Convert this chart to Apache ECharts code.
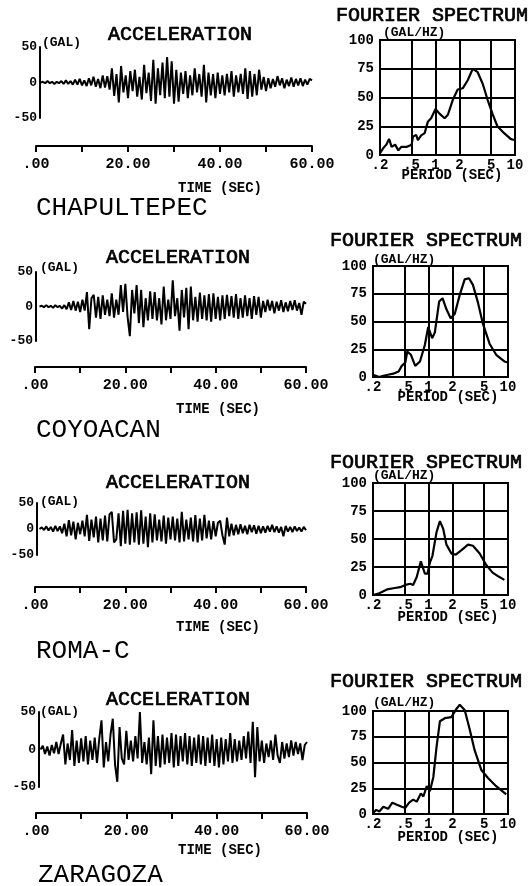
<!DOCTYPE html>
<html><head><meta charset="utf-8">
<script src="https://cdn.jsdelivr.net/npm/echarts@6/dist/echarts.min.js"></script>
<style>html,body{margin:0;padding:0;background:#fff;}#c{width:530px;height:886px;}</style>
</head><body><div id="c"></div>
<script>
// ---------- DATA ----------
const stationNames = ['CHAPULTEPEC', 'COYOACAN', 'ROMA-C', 'ZARAGOZA'];
const accStart = 1.0;   // s, first sample (at the acceleration axis)
const accStep = 0.5;    // s, sampling step of the read-off values
const timeTickLabels = {0: '.00', 20: '20.00', 40: '40.00', 60: '60.00'};
const periodTicks = [0.2, 0.5, 1, 2, 5, 10];
const periodTickLabels = ['.2', '.5', '1', '2', '5', '10'];

const accChapultepec = [0, 1, -1, 2, -1, 1, -2, 1, -1, 2,
 -2, 3, -2, 2, -3, 4, -3, 5, -4, 3,
 -5, 6, -4, 8, -6, 5, -8, 10, -7, 9,
 -10, 20, -19, 12, -28, 23, -14, 10, -22, 16,
 -12, 18, -20, 8, -24, 25, -15, 14, -26, 32,
 -30, 20, -18, 28, -22, 36, -20, 30, -30, 18,
 -27, 14, -16, 16, -22, 10, -18, 20, -14, 12,
 -20, 25, -28, 14, -18, 12, -22, 14, -16, 10,
 -18, 12, -14, 16, -20, 10, -14, 12, -16, 20,
 -23, 16, -20, 12, -18, 18, -10, 8, -12, 6,
 -8, 5, -6, 9, -4, 6, -8, 4, -5, 7,
 -6, 5, -4, 6, -5, 4, -3, 5, 3];
const accCoyoacan = [0, 1, -1, 2, -1, 1, -2, 2, -1, 1,
 -3, 2, -4, 6, -5, 8, -6, 7, -8, 10,
 -6, 21, -33, 12, 17, -16, 14, -18, 16, -12,
 10, -14, 19, -16, 10, -12, 31, -8, 33, -15,
 -43, 24, -10, 31, -24, 24, -30, 12, -20, 22,
 -18, 21, -20, 12, -26, 29, -20, 10, -18, 38,
 -14, 12, -35, 24, -16, 27, -33, 29, -20, 14,
 -22, 20, -18, 16, -20, 18, -22, 19, -18, 14,
 -20, 16, -18, 17, -14, 15, -16, 18, -18, 12,
 -16, 16, -14, 12, -18, 15, -12, 14, -16, 8,
 -8, 10, -6, 8, -10, 7, -6, 9, -8, 6,
 -7, 8, -5, 9, -6, 5, -12, 7, 4];
const accRomaC = [0, 3, -2, 5, -3, 4, -5, 6, -4, 5,
 -8, 10, -14, 17, -12, 14, -20, 12, -10, 16,
 -14, 27, -23, 18, -16, 24, -26, 20, -22, 26,
 -24, 28, 33, -26, -20, 30, -33, 35, -28, 37,
 -30, 30, -26, 32, -30, 36, -28, 24, -35, 30,
 -26, 28, -22, 18, -24, 26, -28, 22, -20, 24,
 -22, 20, -26, 33, -24, 18, -20, 22, -24, 27,
 -26, 20, -22, 27, -18, 16, -20, 15, -14, 12,
 16, -12, -30, 22, -14, 10, -12, 8, -10, 9,
 -8, 6, -10, 8, -6, 7, -9, 6, -8, 5,
 -7, 6, -5, 8, -6, 5, -7, 4, -14, 6,
 -5, 4, -6, 5, -4, 3, -5, 4, -2];
const accZaragoza = [0, 5, -6, 4, -8, 6, -5, 10, -6, 8,
 20, -20, 8, -14, 26, -22, 12, -18, 15, -16,
 18, -20, 12, -14, 16, -18, 14, 39, -24, 10,
 -16, 20, 41, -20, -43, 30, -12, -20, 25, -14,
 12, -16, 18, -12, 50, -18, 10, -20, 16, -33,
 39, -22, 18, -24, 20, -20, 16, -18, 22, -24,
 20, -22, 18, -16, 22, -20, 18, -22, 16, -18,
 20, -20, 18, -22, 16, -18, 20, -22, 14, -24,
 16, -20, 14, -16, 22, -18, 14, -16, 12, -14,
 18, -12, 24, -18, 37, -37, 30, -16, 12, -18,
 8, -10, 12, -14, 20, -8, -18, 10, -12, 8,
 -10, 12, -8, 10, -6, 8, -14, 6, 10];

const specPeriodChapultepec = [0.2,0.22,0.24,0.26,0.28,0.31,0.34,0.37,0.43,0.5,0.52,0.57,0.6,0.66,0.73,0.8,0.88,1.0,1.12,1.3,1.43,1.65,1.9,2.2,2.54,2.94,3.39,3.92,4.52,5.2,6.0,7.3,8.8,9.7];
const specAmpChapultepec = [1.5,6,9,14,7,9,4,7,7,9,16,17.5,13,17,19,29,32,40,36,32,35,48,57,58,65,75,72,62,48,36,25,19,14,13];
const specPeriodCoyoacan = [0.2,0.24,0.27,0.31,0.36,0.42,0.46,0.51,0.54,0.6,0.68,0.78,0.9,0.99,1.11,1.2,1.36,1.5,1.68,1.9,2.14,2.47,2.85,3.23,3.62,4.19,4.83,5.86,7.1,9.0,10];
const specAmpCoyoacan = [2,0,1,2,3,5,10,13,23,20,10,14,29,45,35,40,68,71,61,53,57,74,88,89,83,67,48,30,20,14,13];
const specPeriodRomaC = [0.2,0.24,0.3,0.36,0.44,0.51,0.59,0.64,0.71,0.8,0.9,0.97,1.04,1.12,1.26,1.39,1.53,1.68,1.94,2.2,2.6,3.14,3.62,4.4,5.3,6.4,7.8,9.0];
const specAmpRomaC = [0,1.5,5,6,7,9,10,9,16,30,19,19,29,35,56,66,59,45,37,36,40,45,44,37,27,20,16,13.5];
const specPeriodZaragoza = [0.2,0.22,0.24,0.27,0.31,0.35,0.4,0.46,0.51,0.57,0.64,0.71,0.8,0.86,0.95,1.04,1.15,1.26,1.39,1.6,1.94,2.24,2.47,2.85,3.3,3.8,4.6,5.6,7.1,9.5];
const specAmpZaragoza = [1,4,2.5,7,5,11,9,7,6,11,14,12,20,17,27,22,36,65,90,93,94,102,106,101,82,62,43,35,27,19];

const accData = [accChapultepec, accCoyoacan, accRomaC, accZaragoza];
const specPeriods = [specPeriodChapultepec, specPeriodCoyoacan, specPeriodRomaC, specPeriodZaragoza];
const specAmps = [specAmpChapultepec, specAmpCoyoacan, specAmpRomaC, specAmpZaragoza];

// ---------- LAYOUT ----------
const MONO = '"Liberation Mono", "DejaVu Sans Mono", monospace';
const L = [
 {acc:{left:36,width:276,top:47,height:71,xOff:28,yOff:-4}, title:[180,35], gal:[42,43], time:[220,188], name:[36,208],
  spec:{left:380,width:135,top:40,height:115}, ftitle:[432,16], galhz:[383,33], period:[452,175]},
 {acc:{left:35,width:271,top:272,height:69,xOff:26,yOff:-1}, title:[178,258], gal:[40,268], time:[218,409], name:[36,430],
  spec:{left:373,width:135,top:266,height:111}, ftitle:[426,241], galhz:[373,260], period:[448,397]},
 {acc:{left:35,width:271,top:503,height:52,xOff:32,yOff:-2}, title:[178,483], gal:[40,502], time:[218,627], name:[36,651],
  spec:{left:373,width:135,top:483,height:112}, ftitle:[426,463], galhz:[373,476], period:[448,617]},
 {acc:{left:36,width:271,top:712,height:75,xOff:26,yOff:-3}, title:[178,700], gal:[40,712], time:[220,850], name:[38,875],
  spec:{left:373,width:135,top:711,height:103}, ftitle:[426,682], galhz:[373,703], period:[448,837]}
];

function txt(p, text, font, align, sw) {
  const style = {text:text, font:font, fill:'#000', textAlign:align||'center', textVerticalAlign:'middle', verticalAlign:'middle'};
  if (sw) { style.stroke = '#000'; style.lineWidth = sw; }
  return {type:'text', x:p[0], y:p[1], silent:true, style:style};
}
const black = {color:'#000', width:2};
const grids = [], xAxes = [], yAxes = [], series = [], graphics = [];

stationNames.forEach(function(name, i){
  const g = L[i];
  // acceleration
  grids.push({left:g.acc.left, top:g.acc.top, width:g.acc.width, height:g.acc.height, outerBoundsMode:'none', containLabel:false});
  let gi = grids.length - 1;
  xAxes.push({gridIndex:gi, type:'value', min:0, max:60, interval:10, position:'bottom', offset:g.acc.xOff,
    axisLine:{show:true, onZero:false, lineStyle:black},
    axisTick:{show:true, length:6, lineStyle:black},
    axisLabel:{margin:11, color:'#000', fontFamily:MONO, fontWeight:'bold', fontSize:15,
      formatter:function(v){ return timeTickLabels[Math.round(v)] || ''; }},
    splitLine:{show:false}});
  yAxes.push({gridIndex:gi, type:'value', min:-50, max:50, interval:50, position:'left', offset:g.acc.yOff,
    axisLine:{show:true, onZero:false, lineStyle:black},
    axisTick:{show:false},
    axisLabel:{margin:3, color:'#000', fontFamily:MONO, fontWeight:'bold', fontSize:13},
    splitLine:{show:false}});
  series.push({type:'line', xAxisIndex:gi, yAxisIndex:gi, symbol:'none', showSymbol:false, animation:false,
    lineStyle:{color:'#000', width:2},
    data: accData[i].map(function(v,k){ return [accStart + k*accStep, v]; })});
  // spectrum
  grids.push({left:g.spec.left, top:g.spec.top, width:g.spec.width, height:g.spec.height, show:true,
    borderColor:'#000', borderWidth:2, backgroundColor:'transparent', outerBoundsMode:'none', containLabel:false});
  gi = grids.length - 1;
  xAxes.push({gridIndex:gi, type:'log', logBase:10, min:0.2, max:10,
    axisLine:{show:true, onZero:false, lineStyle:black},
    axisTick:{show:false, customValues:periodTicks},
    axisLabel:{margin:3, color:'#000', fontFamily:MONO, fontWeight:'bold', fontSize:14, customValues:periodTicks, hideOverlap:false,
      formatter:function(v){ let b=0; periodTicks.forEach(function(t,k){ if(Math.abs(Math.log(t/v))<Math.abs(Math.log(periodTicks[b]/v))) b=k; }); return periodTickLabels[b]; }},
    splitLine:{show:true, lineStyle:black}});
  yAxes.push({gridIndex:gi, type:'value', min:0, max:100, interval:25,
    axisLine:{show:true, onZero:false, lineStyle:black},
    axisTick:{show:false},
    axisLabel:{margin:6, color:'#000', fontFamily:MONO, fontWeight:'bold', fontSize:14, padding:[0,0,8,0]},
    splitLine:{show:true, lineStyle:black}});
  series.push({type:'line', xAxisIndex:gi, yAxisIndex:gi, symbol:'none', showSymbol:false, animation:false, clip:false,
    lineStyle:{color:'#000', width:2.2},
    data: specPeriods[i].map(function(t,k){ return [t, specAmps[i][k]]; })});
  // texts
  graphics.push(txt(g.title, 'ACCELERATION', '20px ' + MONO, 'center', 0.7));
  graphics.push(txt(g.gal, '(GAL)', 'bold 13px ' + MONO, 'left'));
  graphics.push(txt(g.time, 'TIME (SEC)', 'bold 14px ' + MONO));
  graphics.push(txt(g.name, name, '26px ' + MONO, 'left'));
  graphics.push(txt(g.ftitle, 'FOURIER SPECTRUM', '20px ' + MONO, 'center', 0.7));
  graphics.push(txt(g.galhz, '(GAL/HZ)', 'bold 13px ' + MONO, 'left'));
  graphics.push(txt(g.period, 'PERIOD (SEC)', 'bold 14px ' + MONO));
});

const chart = echarts.init(document.getElementById('c'), null, {renderer:'canvas'});
chart.setOption({
  animation:false, backgroundColor:'#fff',
  grid:grids, xAxis:xAxes, yAxis:yAxes, series:series, graphic:graphics
});
</script></body></html>
